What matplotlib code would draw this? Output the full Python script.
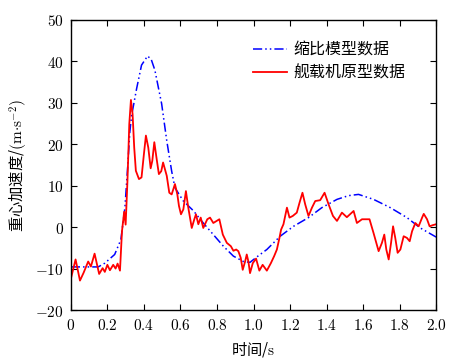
import matplotlib
matplotlib.use("Agg")
import matplotlib.pyplot as plt
from matplotlib.ticker import FuncFormatter, MultipleLocator

plt.rcParams['font.family'] = ['Noto Sans CJK SC', 'DejaVu Sans']
plt.rcParams['mathtext.fontset'] = 'cm'

# 缩比模型数据 (scaled model)
model_t = [0, 0.15, 0.186, 0.24, 0.274, 0.287, 0.296, 0.311, 0.323, 0.333, 0.36, 0.387,
           0.42, 0.44, 0.46, 0.497, 0.525, 0.552, 0.57, 0.616, 0.67, 0.725, 0.78, 0.835,
           0.89, 0.945, 0.981, 1.018, 1.073, 1.146, 1.219, 1.301, 1.374, 1.457, 1.52,
           1.575, 1.657, 1.749, 1.84, 1.913, 2.0]
model_v = [-9.6, -9.6, -8.7, -6.6, -3.0, 1.5, 4.7, 14.4, 23.0, 27.0, 33.4, 39.1,
           41.3, 40.5, 37.9, 29.8, 20.9, 13.5, 9.5, 6.3, 4.0, 1.0, -1.8, -4.6,
           -7.0, -8.3, -8.5, -7.2, -5.4, -2.2, 0.2, 2.3, 4.7, 6.7, 7.6,
           7.9, 6.7, 4.7, 2.3, -0.2, -2.4]

# 舰载机原型数据 (prototype)
proto_t = [0.0, 0.026, 0.05, 0.07, 0.095, 0.11, 0.13, 0.155, 0.174, 0.186, 0.2, 0.214,
           0.232, 0.245, 0.256, 0.269, 0.28, 0.292, 0.30, 0.31, 0.32, 0.329, 0.338,
           0.347, 0.356, 0.373, 0.387, 0.40, 0.411, 0.424, 0.437, 0.446, 0.457, 0.47,
           0.482, 0.495, 0.505, 0.525, 0.539, 0.552, 0.57, 0.583, 0.592, 0.603, 0.616,
           0.63, 0.643, 0.662, 0.676, 0.685, 0.698, 0.711, 0.725, 0.747, 0.762, 0.78,
           0.813, 0.832, 0.854, 0.876, 0.89, 0.905, 0.917, 0.93, 0.941, 0.954, 0.963,
           0.972, 0.981, 0.996, 1.014, 1.032, 1.05, 1.073, 1.095, 1.113, 1.128, 1.142,
           1.151, 1.164, 1.183, 1.197, 1.215, 1.237, 1.252, 1.268, 1.283, 1.301, 1.32,
           1.338, 1.365, 1.389, 1.411, 1.435, 1.457, 1.484, 1.511, 1.548, 1.566, 1.594,
           1.635, 1.657, 1.685, 1.703, 1.716, 1.727, 1.74, 1.753, 1.764, 1.776, 1.789,
           1.804, 1.822, 1.84, 1.855, 1.868, 1.886, 1.904, 1.923, 1.932, 1.95, 1.964,
           1.983, 2.0]
proto_v = [-12.5, -7.8, -12.9, -11.0, -8.3, -9.5, -6.4, -11.3, -9.9, -10.8, -9.1, -10.4,
           -9.1, -10.0, -8.8, -10.5, -1.0, 3.7, 0.6, 11.2, 24.9, 30.7, 27.3,
           19.2, 13.6, 11.6, 12.0, 17.6, 22.1, 19.2, 14.2, 16.0, 20.5, 16.4,
           12.8, 13.5, 15.6, 12.4, 8.3, 7.9, 10.4, 7.9, 5.1, 3.1, 4.3,
           8.7, 4.7, -0.2, 1.9, 3.1, 0.7, 2.3, -0.2, 1.9, 2.3, 1.0,
           1.9, -1.8, -3.8, -4.6, -5.7, -5.4, -5.8, -7.4, -10.3, -8.3, -6.6,
           -8.3, -11.1, -8.7, -7.6, -10.5, -9.1, -10.5, -8.7, -7.0, -5.4, -2.6,
           -0.6, 0.7, 4.7, 2.3, 2.7, 3.5, 5.9, 8.3, 5.5, 2.7, 4.7,
           6.3, 6.5, 8.3, 5.5, 2.7, 1.5, 3.5, 2.4, 3.9, 1.0, 1.9,
           1.9, -1.4, -5.8, -3.8, -1.8, -5.4, -7.8, -3.8, 0.2, -2.6, -6.2,
           -5.4, -2.2, -2.6, -3.4, -1.0, 1.0, 0.2, 2.3, 3.2, 1.9, 0.2,
           0.5, 0.7]

legend_labels = ['缩比模型数据', '舰载机原型数据']

fig = plt.figure(figsize=(4.66, 3.63), dpi=100)
ax = fig.add_axes([0.152, 0.146, 0.784, 0.799])

ax.plot(model_t, model_v, color='#0000ff', lw=1.1,
        linestyle=(0, (6, 2, 1, 2, 1, 2)), label=legend_labels[0])
ax.plot(proto_t, proto_v, color='#ff0000', lw=1.3, label=legend_labels[1])

ax.set_xlim(0, 2.0)
ax.set_ylim(-20, 50)
ax.xaxis.set_major_locator(MultipleLocator(0.2))
ax.yaxis.set_major_locator(MultipleLocator(10))
ax.xaxis.set_major_formatter(FuncFormatter(
    lambda v, p: "$0$" if abs(v) < 1e-9 else f"${v:.1f}$"))
ax.yaxis.set_major_formatter(FuncFormatter(lambda v, p: f"${v:.0f}$"))
ax.tick_params(direction='in', top=True, right=True, length=4, width=0.8,
               labelsize=11, pad=5)
for s in ax.spines.values():
    s.set_linewidth(1.0)

ax.set_xlabel('时间/$\\mathrm{s}$', fontsize=11, labelpad=4)
ax.set_ylabel('重心加速度/$(\\mathrm{m{\\cdot}s^{-2}})$', fontsize=11, labelpad=4)

leg = ax.legend(loc='upper left', frameon=False, fontsize=11.5,
                handlelength=2.1, handletextpad=0.4, labelspacing=0.38,
                borderpad=0, borderaxespad=0,
                bbox_to_anchor=(0.499, 0.926))

fig.savefig('out.png', dpi=100)
